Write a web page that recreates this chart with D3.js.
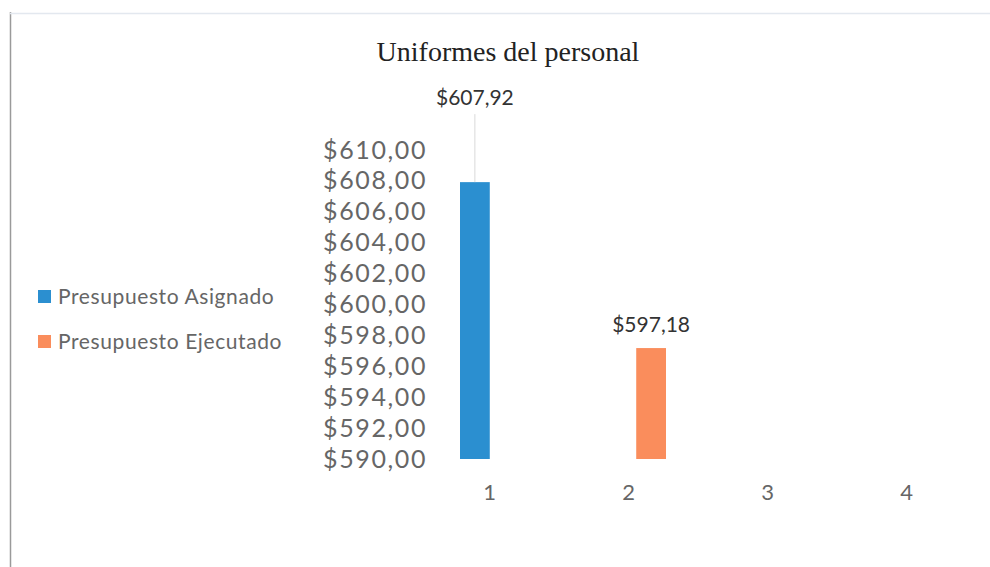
<!DOCTYPE html>
<html lang="es">
<head>
<meta charset="UTF-8">
<title>Uniformes del personal</title>
<script src="https://d3js.org/d3.v7.min.js"></script>
<style>
  html, body { margin: 0; padding: 0; background: #fff; }
  svg { display: block; }
</style>
</head>
<body>
<svg width="990" height="567"></svg>
<script>
// data
const categories = ["1", "2", "3", "4"];
const seriesNames = ["Presupuesto Asignado", "Presupuesto Ejecutado"];
const asignado = [607.92, null, null, null];
const ejecutado = [null, 597.18, null, null];
const yTicks = [590, 592, 594, 596, 598, 600, 602, 604, 606, 608, 610];

const colors = ["#2b8fd0", "#fa8d5c"];
const textColor = "#666";
const sans = "Lato, 'Open Sans', sans-serif";
const money = v => "$" + d3.format(".2f")(v).replace(".", ",");

const svg = d3.select("svg");

// frame of the scanned chart
svg.append("line")
  .attr("x1", 10.5).attr("x2", 10.5).attr("y1", 12).attr("y2", 567)
  .attr("stroke", "#9a9a9a").attr("stroke-width", 1.5);
svg.append("line")
  .attr("x1", 10).attr("x2", 990).attr("y1", 13.5).attr("y2", 13.5)
  .attr("stroke", "#e3e8ef").attr("stroke-width", 1.5);

// title
svg.append("text")
  .attr("x", 508).attr("y", 61)
  .attr("text-anchor", "middle")
  .attr("font-family", "'Liberation Serif', 'DejaVu Serif', serif")
  .attr("font-size", 28)
  .attr("fill", "#222")
  .text("Uniformes del personal");

// scales
const x = d3.scaleBand()
  .domain(categories)
  .range([420, 976]);

const xs = d3.scaleBand()
  .domain([0, 1])
  .range([40, 107])
  .paddingInner(0.2);

const y = d3.scaleLinear()
  .domain([590, 610])
  .range([459, 150]);

// y axis (labels only)
const yAxis = svg.append("g")
  .attr("transform", "translate(427,0)")
  .call(d3.axisLeft(y)
    .tickValues(yTicks)
    .tickSize(0)
    .tickPadding(0)
    .tickFormat(money));
yAxis.select(".domain").remove();
yAxis.selectAll("text")
  .attr("font-family", sans)
  .attr("font-size", 25)
  .attr("letter-spacing", 1.6)
  .attr("fill", textColor);

// x axis (labels only)
const xAxis = svg.append("g")
  .attr("transform", "translate(0,484)")
  .call(d3.axisBottom(x).tickSize(0).tickPadding(0));
xAxis.select(".domain").remove();
xAxis.selectAll("text")
  .attr("font-family", sans)
  .attr("font-size", 22)
  .attr("fill", textColor);

// bars
const series = [asignado, ejecutado];
series.forEach((vals, s) => {
  const pts = categories.map((c, i) => ({ c, v: vals[i] })).filter(d => d.v != null);

  svg.selectAll(null)
    .data(pts)
    .enter()
    .append("rect")
    .attr("x", d => x(d.c) + xs(s))
    .attr("y", d => y(d.v))
    .attr("width", xs.bandwidth())
    .attr("height", d => y(590) - y(d.v))
    .attr("fill", colors[s]);

  // data labels
  svg.selectAll(null)
    .data(pts)
    .enter()
    .append("text")
    .attr("x", d => x(d.c) + xs(s) + xs.bandwidth() / 2)
    .attr("y", d => s === 0 ? y(d.v) - 77 : y(d.v) - 16)
    .attr("text-anchor", "middle")
    .attr("font-family", sans)
    .attr("font-size", 21)
    .attr("fill", "#333")
    .text(d => money(d.v));
});

// leader line for the first label
const cx = x("1") + xs(0) + xs.bandwidth() / 2;
svg.append("line")
  .attr("x1", cx).attr("x2", cx)
  .attr("y1", y(asignado[0]) - 68).attr("y2", y(asignado[0]))
  .attr("stroke", "#d9d9d9").attr("stroke-width", 1);

// legend
const legend = svg.append("g");
seriesNames.forEach((name, i) => {
  const gy = 297 + i * 45;
  legend.append("rect")
    .attr("x", 38).attr("y", gy - 7)
    .attr("width", 13).attr("height", 13)
    .attr("fill", colors[i]);
  legend.append("text")
    .attr("x", 58).attr("y", gy)
    .attr("dy", "0.35em")
    .attr("font-family", sans)
    .attr("font-size", 21)
    .attr("letter-spacing", 0.6)
    .attr("fill", textColor)
    .text(name);
});
</script>
</body>
</html>
